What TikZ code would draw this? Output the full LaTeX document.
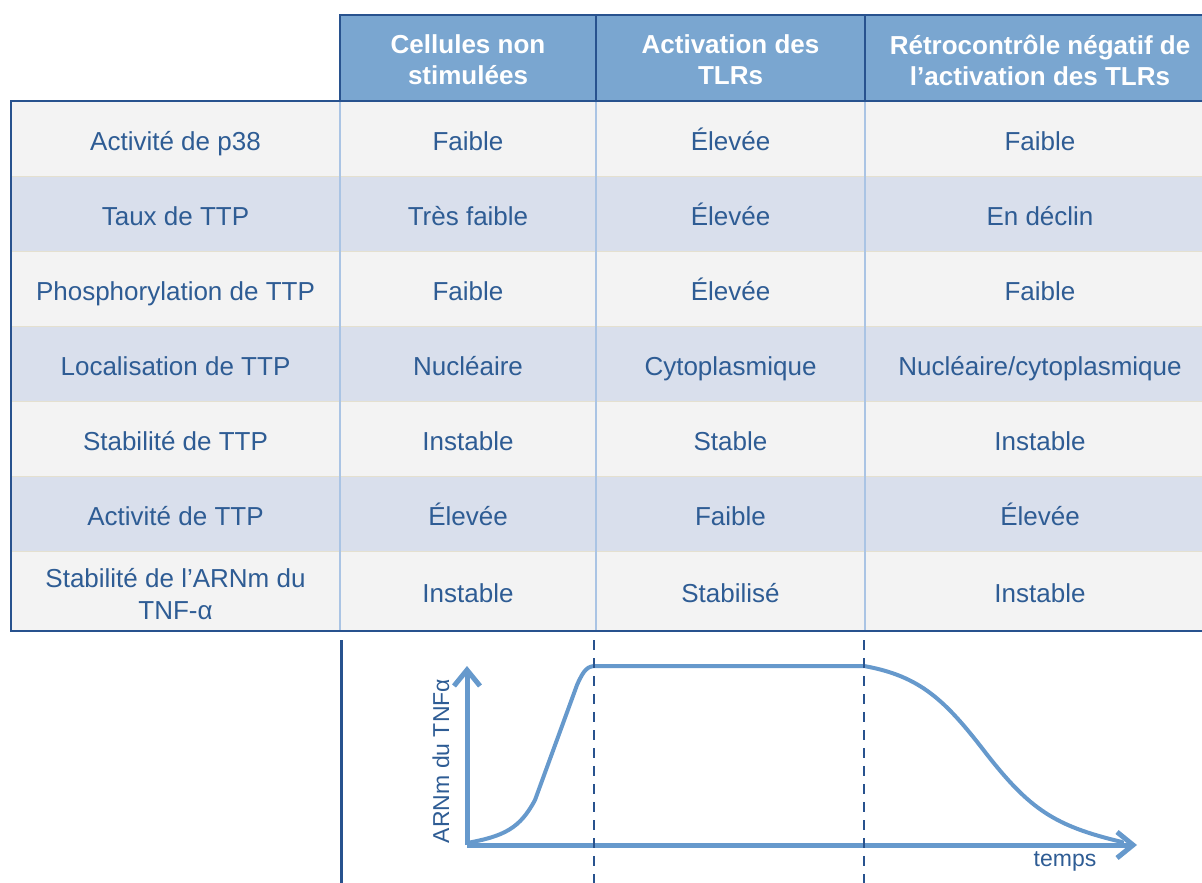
\documentclass[tikz,border=0pt]{standalone}
\usepackage{fontspec}
\setmainfont{Liberation Sans}
\usetikzlibrary{arrows.meta}
\definecolor{hdr}{RGB}{122,166,208}
\definecolor{dark}{RGB}{40,82,142}
\definecolor{txt}{RGB}{46,92,148}
\definecolor{rowA}{RGB}{243,243,243}
\definecolor{rowB}{RGB}{217,223,236}
\definecolor{sepline}{RGB}{228,224,208}
\definecolor{vline}{RGB}{170,196,228}
\definecolor{curve}{RGB}{102,153,204}
\begin{document}
\begin{tikzpicture}[x=1pt,y=-1pt,
  cell/.style={text=txt, font=\fontsize{26}{32}\selectfont, align=center, inner sep=0pt, anchor=base},
  cell2/.style={text=txt, font=\fontsize{26}{32}\selectfont, align=center, inner sep=0pt, anchor=center},
  head/.style={text=white, font=\fontsize{26}{31}\selectfont\bfseries, align=center, inner sep=0pt},
  axlab/.style={text=txt, font=\fontsize{23}{28}\selectfont, inner sep=0pt},
  border/.style={draw=dark, line width=2.5pt},
  axis/.style={draw=curve, line width=5pt, -{Straight Barb[length=16pt,width=26pt,line width=5pt]}},
  curvestyle/.style={draw=curve, line width=4pt, line cap=round, line join=round},
  phase/.style={draw=dark, line width=2.4pt, dash pattern=on 10pt off 8pt}]
\useasboundingbox (0,0) rectangle (1202,883);
\clip (0,0) rectangle (1202,883);
% row fills
\fill[rowA] (11,101) rectangle (1215,176.5);
\fill[rowB] (11,176.5) rectangle (1215,251.5);
\fill[rowA] (11,251.5) rectangle (1215,326.5);
\fill[rowB] (11,326.5) rectangle (1215,401.5);
\fill[rowA] (11,401.5) rectangle (1215,476.5);
\fill[rowB] (11,476.5) rectangle (1215,551.5);
\fill[rowA] (11,551.5) rectangle (1215,631);
% row separators
\foreach \yy in {176.5,251.5,326.5,401.5,476.5,551.5}
  \draw[sepline, line width=1.2pt] (11,\yy) -- (1215,\yy);
% body vertical lines
\foreach \xx in {340,596,865}
  \draw[vline, line width=1.2pt] (\xx,101) -- (\xx,631);
% header
\fill[hdr] (340,15) rectangle (1215,101);
\draw[border] (340,101) -- (340,15) -- (1215,15);
\draw[border] (596,15) -- (596,101);
\draw[border] (865,15) -- (865,101);
\draw[border] (11,101) -- (1215,101);
\draw[border] (11,100) -- (11,631) -- (1215,631);
% header texts
\node[head] (h1) at (468,60) {Cellules non\\stimulées};
\node[head] (h2) at (730.5,60) {Activation des\\TLRs};
\node[head] (h3) at (1040,60) {Rétrocontrôle négatif de\\l’activation des TLRs};
% row labels
\node[cell] (r1) at (175.5,150) {Activité de p38};
\node[cell] (r2) at (175.5,225) {Taux de TTP};
\node[cell] (r3) at (175.5,300) {Phosphorylation de TTP};
\node[cell] (r4) at (175.5,375) {Localisation de TTP};
\node[cell] (r5) at (175.5,450) {Stabilité de TTP};
\node[cell] (r6) at (175.5,525) {Activité de TTP};
\node[cell2] (r7) at (175.5,594.5) {Stabilité de l’ARNm du\\TNF-α};
% column 1
\node[cell] (c11) at (468,150) {Faible};
\node[cell] (c12) at (468,225) {Très faible};
\node[cell] (c13) at (468,300) {Faible};
\node[cell] (c14) at (468,375) {Nucléaire};
\node[cell] (c15) at (468,450) {Instable};
\node[cell] (c16) at (468,525) {Élevée};
\node[cell] (c17) at (468,602) {Instable};
% column 2
\node[cell] (c21) at (730.5,150) {Élevée};
\node[cell] (c22) at (730.5,225) {Élevée};
\node[cell] (c23) at (730.5,300) {Élevée};
\node[cell] (c24) at (730.5,375) {Cytoplasmique};
\node[cell] (c25) at (730.5,450) {Stable};
\node[cell] (c26) at (730.5,525) {Faible};
\node[cell] (c27) at (730.5,602) {Stabilisé};
% column 3
\node[cell] (c31) at (1040,150) {Faible};
\node[cell] (c32) at (1040,225) {En déclin};
\node[cell] (c33) at (1040,300) {Faible};
\node[cell] (c34) at (1040,375) {Nucléaire/cytoplasmique};
\node[cell] (c35) at (1040,450) {Instable};
\node[cell] (c36) at (1040,525) {Élevée};
\node[cell] (c37) at (1040,602) {Instable};
% graph
\coordinate (O) at (467,845);
\coordinate (Ytip) at (467,666);
\coordinate (Xtip) at (1137,845);
\draw[curvestyle] (467,843) .. controls (505,836) and (520,828) .. (535,800)
  -- (577,685) .. controls (584,669) and (588,666) .. (596,666)
  -- (864,666) .. controls (920,676) and (945,700) .. (985,752)
  .. controls (1030,810) and (1055,826) .. (1122,842);
\draw[axis] (O) -- (Ytip);
\draw[axis] (O) -- (Xtip);
\node[axlab, rotate=90] (ylab) at (441,761) {ARNm du TNFα};
\node[axlab] (tlab) at (1065,861) {temps};
% separators
\coordinate (s0a) at (341.5,640);
\coordinate (s0b) at (341.5,883);
\coordinate (s1a) at (594,640);
\coordinate (s1b) at (594,883);
\coordinate (s2a) at (864,640);
\coordinate (s2b) at (864,883);
\draw[dark, line width=3pt] (s0a) -- (s0b);
\draw[phase] (s1a) -- (s1b);
\draw[phase] (s2a) -- (s2b);
\end{tikzpicture}
\end{document}
